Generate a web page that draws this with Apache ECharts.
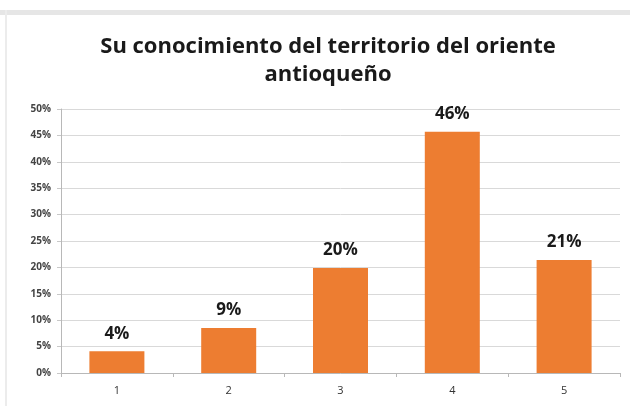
<!DOCTYPE html>
<html>
<head>
<meta charset="utf-8">
<script src="https://cdn.jsdelivr.net/npm/echarts@6/dist/echarts.min.js"></script>
<style>
  html, body { margin: 0; padding: 0; background: #ffffff; }
  #main { width: 630px; height: 406px; }
</style>
</head>
<body>
<div id="main"></div>
<script>
// datos
const categories = ['1', '2', '3', '4', '5']
const values = [4.1, 8.5, 19.9, 45.7, 21.4]
const yTicks = [0, 5, 10, 15, 20, 25, 30, 35, 40, 45, 50]
const titleLines = ['Su conocimiento del territorio del oriente', 'antioqueño']

const chart = echarts.init(document.getElementById('main'))

const option = {
  animation: false,
  textStyle: { fontFamily: 'Open Sans' },
  // marco gris del recorte
  graphic: [
    { type: 'rect', shape: { x: 0, y: 10, width: 630, height: 5 }, style: { fill: '#e6e6e6' }, silent: true },
    { type: 'rect', shape: { x: 5, y: 10, width: 2, height: 396 }, style: { fill: '#ececec' }, silent: true }
  ],
  title: {
    text: titleLines.join('\n'),
    left: 323,
    textAlign: 'center',
    top: 28,
    textStyle: {
      fontFamily: 'Open Sans',
      fontWeight: 'bold',
      fontSize: 22,
      lineHeight: 28,
      color: '#1a1a1a'
    }
  },
  grid: { left: 61, right: 10, top: 109, bottom: 33 },
  xAxis: {
    type: 'category',
    data: categories,
    axisLine: { lineStyle: { color: '#b8b8b8' } },
    axisTick: { show: true, alignWithLabel: false, length: 4, lineStyle: { color: '#b8b8b8' } },
    axisLabel: { color: '#333', fontSize: 11, margin: 12 }
  },
  yAxis: {
    type: 'value',
    min: yTicks[0],
    max: yTicks[yTicks.length - 1],
    interval: 5,
    axisLine: { show: true, lineStyle: { color: '#b8b8b8' } },
    axisTick: { show: true, length: 4, lineStyle: { color: '#c8c8c8' } },
    splitLine: { lineStyle: { color: '#d9d9d9' } },
    axisLabel: { color: '#444', fontSize: 10, fontWeight: 'bold', margin: 10, formatter: v => v + '%' }
  },
  series: [
    {
      type: 'bar',
      data: values,
      barWidth: 55,
      itemStyle: { color: '#ed7d31' },
      label: {
        show: true,
        position: 'top',
        distance: 9,
        color: '#1a1a1a',
        fontSize: 17,
        fontWeight: 'bold',
        formatter: p => Math.round(p.value) + '%'
      }
    }
  ]
}

chart.setOption(option)
</script>
</body>
</html>
